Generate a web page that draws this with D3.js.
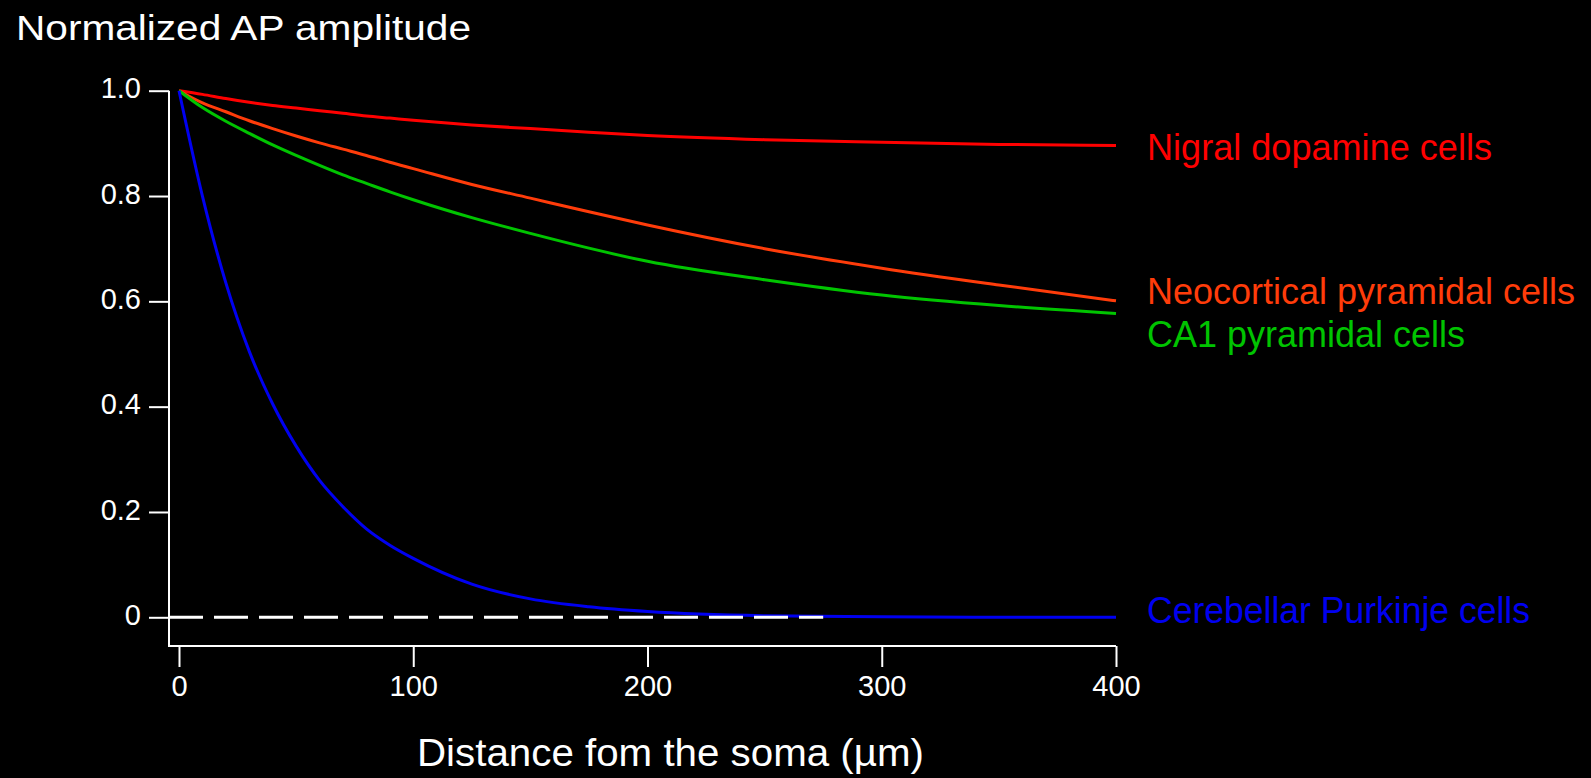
<!DOCTYPE html>
<html>
<head>
<meta charset="utf-8">
<script src="https://cdn.jsdelivr.net/npm/d3@7"></script>
<style>
  html, body { margin: 0; padding: 0; background: #000; }
  svg { display: block; }
  text { font-family: "Liberation Sans", Arial, sans-serif; fill: #fff; }
</style>
</head>
<body>
<script>
// ---- data ----
const distance = [0, 10, 20, 30, 40, 50, 60, 70, 80, 90, 100, 125, 150, 175, 200, 250, 300, 350, 400];
const nigral     = [1, 0.993, 0.985, 0.978, 0.972, 0.967, 0.962, 0.957, 0.952, 0.948, 0.944, 0.935, 0.928, 0.921, 0.915, 0.907, 0.902, 0.898, 0.896];
const neocortical= [1, 0.977, 0.960, 0.943, 0.928, 0.914, 0.901, 0.889, 0.877, 0.864, 0.852, 0.822, 0.796, 0.770, 0.745, 0.700, 0.663, 0.631, 0.601];
const ca1        = [1, 0.968, 0.942, 0.919, 0.897, 0.877, 0.858, 0.840, 0.824, 0.808, 0.793, 0.759, 0.729, 0.701, 0.676, 0.641, 0.612, 0.592, 0.577];
const purkinje   = [1, 0.80, 0.635, 0.505, 0.405, 0.325, 0.26, 0.21, 0.168, 0.137, 0.112, 0.063, 0.035, 0.020, 0.011, 0.003, 0.001, 0, 0];
const seriesNames = ["Nigral dopamine cells", "Neocortical pyramidal cells", "CA1 pyramidal cells", "Cerebellar Purkinje cells"];
const xTicks = [0, 100, 200, 300, 400];
const yTicks = [0, 0.2, 0.4, 0.6, 0.8, 1.0];
const yTickLabels = ["0", "0.2", "0.4", "0.6", "0.8", "1.0"];
const dashedEnd = 275;
const yTitle = "Normalized AP amplitude";
const xTitle = "Distance fom the soma (\u00b5m)";

// ---- layout ----
const W = 1591, H = 778;
const svg = d3.select("body").append("svg").attr("width", W).attr("height", H);
svg.append("rect").attr("width", W).attr("height", H).attr("fill", "#000");

const x = d3.scaleLinear().domain([0, 400]).range([179, 1116]);
const y = d3.scaleLinear().domain([0, 1]).range([617.3, 90.7]);
const axisX0 = 169, axisY0 = 646;

const colors = ["#ff0000", "#ff3c0a", "#00c400", "#0000f0"];
const values = [nigral, neocortical, ca1, purkinje];

// frame (L-shaped axis lines)
svg.append("path")
  .attr("d", `M${axisX0},${y(1)}V${axisY0}H${x(400)}`)
  .attr("fill", "none").attr("stroke", "#fff").attr("stroke-width", 2);

// y axis ticks
const yAxis = d3.axisLeft(y).tickValues(yTicks).tickSize(20).tickSizeOuter(0)
  .tickFormat((d, i) => yTickLabels[i]);
const gy = svg.append("g").attr("transform", `translate(${axisX0},0)`).call(yAxis);
gy.select(".domain").remove();
gy.selectAll(".tick line").attr("stroke", "#fff").attr("stroke-width", 2);
gy.selectAll(".tick text")
  .attr("x", -28).attr("dy", "0.25em")
  .style("font-size", "29px").attr("fill", "#fff")
  .style("font-family", '"Liberation Sans", Arial, sans-serif');

// x axis ticks
const xAxis = d3.axisBottom(x).tickValues(xTicks).tickSize(21).tickSizeOuter(0).tickFormat(d3.format("d"));
const gx = svg.append("g").attr("transform", `translate(0,${axisY0})`).call(xAxis);
gx.select(".domain").remove();
gx.selectAll(".tick line").attr("stroke", "#fff").attr("stroke-width", 2);
gx.selectAll(".tick text")
  .attr("y", 29).attr("dy", "0.71em")
  .style("font-size", "29px").attr("fill", "#fff")
  .style("font-family", '"Liberation Sans", Arial, sans-serif');

// lines
const line = d3.line().x((d, i) => x(distance[i])).y(d => y(d)).curve(d3.curveMonotoneX);
values.forEach((vals, k) => {
  svg.append("path").datum(vals)
    .attr("d", line)
    .attr("fill", "none")
    .attr("stroke", colors[k])
    .attr("stroke-width", 3)
    .attr("stroke-linejoin", "round");
});

// dashed zero line
svg.append("line")
  .attr("x1", axisX0).attr("x2", x(dashedEnd))
  .attr("y1", y(0)).attr("y2", y(0))
  .attr("stroke", "#fff").attr("stroke-width", 3)
  .attr("stroke-dasharray", "34,11");

// series labels
const labelOffsets = [14.5, 3.5, 33.5, 6];
const labelWidths = [345, 428, 318, 383];
values.forEach((vals, k) => {
  svg.append("text")
    .attr("x", x(400) + 31)
    .attr("y", y(vals[vals.length - 1]) + labelOffsets[k])
    .attr("fill", colors[k])
    .style("fill", colors[k])
    .style("font-size", "36px")
    .attr("textLength", labelWidths[k])
    .attr("lengthAdjust", "spacingAndGlyphs")
    .text(seriesNames[k]);
});

// titles
svg.append("text")
  .attr("x", 16).attr("y", 39.5)
  .style("font-size", "35px")
  .attr("textLength", 455).attr("lengthAdjust", "spacingAndGlyphs")
  .text(yTitle);

svg.append("text")
  .attr("x", 417).attr("y", 766)
  .style("font-size", "38px")
  .attr("textLength", 507).attr("lengthAdjust", "spacingAndGlyphs")
  .text(xTitle);
</script>
</body>
</html>
